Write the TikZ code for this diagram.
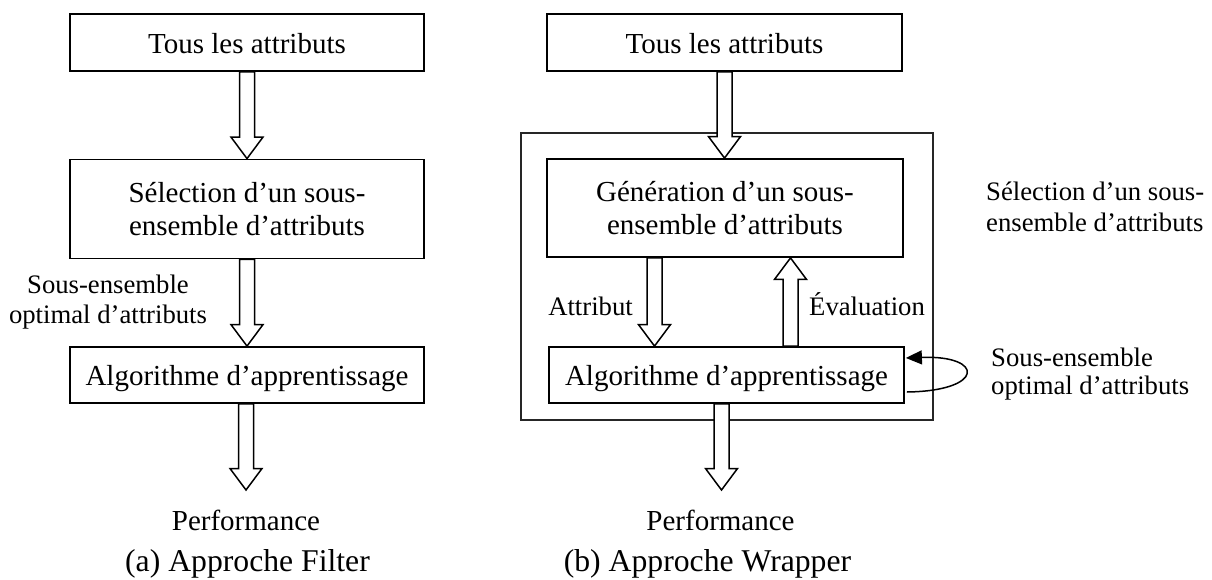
\documentclass[tikz,border=0pt]{standalone}
\usepackage{fontspec}
\setmainfont{Liberation Serif}
\usetikzlibrary{calc,arrows.meta}

% hollow block arrow pointing down, from #1 to the tip #2
\newcommand\blockdown[2]{%
  \draw[blockarrow] let \p1=(#1), \p2=(#2) in
    (\x1-7.5pt,\y1) -- (\x1+7.5pt,\y1) -- (\x1+7.5pt,\y2+21.5pt)
    -- (\x1+16pt,\y2+21.5pt) -- (\x1,\y2) -- (\x1-16pt,\y2+21.5pt)
    -- (\x1-7.5pt,\y2+21.5pt) -- cycle;}
% hollow block arrow pointing up, from #1 to the tip #2
\newcommand\blockup[2]{%
  \draw[blockarrow] let \p1=(#1), \p2=(#2) in
    (\x1-7.5pt,\y1) -- (\x1-7.5pt,\y2-21.5pt) -- (\x1-16pt,\y2-21.5pt)
    -- (\x1,\y2) -- (\x1+16pt,\y2-21.5pt) -- (\x1+7.5pt,\y2-21.5pt)
    -- (\x1+7.5pt,\y1) -- cycle;}

\tikzset{
  boxfont/.style={font=\fontsize{29}{33}\selectfont},
  box/.style={draw, line width=1.8pt, minimum width=354pt, inner sep=0pt,
    align=center, boxfont},
  oneline/.style={text height=26pt, text depth=4.6pt},
  blockarrow/.style={draw, fill=white, line width=1.5pt, line join=miter},
  lbl/.style={inner sep=0pt, font=\fontsize{26.7}{30.7}\selectfont},
  caption/.style={inner sep=0pt, anchor=base, font=\fontsize{31.7}{36}\selectfont},
  frame/.style={draw=black!85, line width=1.5pt, minimum width=412pt,
    minimum height=287pt, inner sep=0pt},
}

\begin{document}
\begin{tikzpicture}[x=1pt,y=-1pt]
\useasboundingbox (0,0) rectangle (1212,580);

% ---------- (a) filter approach ----------
\node[box, oneline, minimum height=57pt] (tousA) at (247,42.5) {Tous les attributs};
\node[box, minimum height=99pt] (selA) at (247,209) {Sélection d’un sous-\\ensemble d’attributs};
\node[box, oneline, minimum height=56pt] (algoA) at (247,375) {Algorithme d’apprentissage};
\node[lbl, align=center] (optA) at (108,302) {Sous-ensemble\\optimal d’attributs};
\node[boxfont, inner sep=0pt, anchor=base] (perfA) at (246,530) {Performance};
\node[caption] (capA) at (247.5,571) {(a) Approche Filter};
\coordinate (tipA) at (246,490);

\blockdown{tousA.south}{selA.north}
\blockdown{selA.south}{algoA.north}
\blockdown{algoA.south -| tipA}{tipA}

% ---------- (b) wrapper approach ----------
\node[frame] (wrap) at (727,276.5) {};
\node[box, oneline, minimum width=355pt, minimum height=57pt] (tousB) at (724.5,42.5) {Tous les attributs};
\node[box, minimum width=356pt, minimum height=98pt] (genB) at (725,208) {Génération d’un sous-\\ensemble d’attributs};
\node[box, oneline, minimum width=355pt, minimum height=56pt] (algoB) at (726.5,375) {Algorithme d’apprentissage};
\node[lbl, anchor=base east] (attr) at (633,315) {Attribut};
\node[lbl, anchor=base west] (eval) at (809,315) {Évaluation};
\node[lbl, align=left, anchor=west] (selB) at (986,207) {Sélection d’un sous-\\ensemble d’attributs};
\node[lbl, align=left, anchor=west, font=\fontsize{26.7}{28.5}\selectfont] (optB) at (991,374) {Sous-ensemble\\optimal d’attributs};
\node[boxfont, inner sep=0pt, anchor=base] (perfB) at (720.5,530) {Performance};
\node[caption] (capB) at (707.5,571) {(b) Approche Wrapper};
\coordinate (tipB) at (721.5,490);
\coordinate (xattr) at (654.5,0);
\coordinate (xeval) at (790.5,0);

\blockdown{tousB.south}{genB.north}
\blockdown{genB.south -| xattr}{algoB.north -| xattr}
\blockup{algoB.north -| xeval}{genB.south -| xeval}
\blockdown{algoB.south -| tipB}{tipB}

% feedback loop on the learning algorithm
\draw[line width=1.5pt, -{Triangle[length=16pt,width=14pt]}]
  ($(algoB.east)+(2,17)$) .. controls ($(algoB.east)+(80,16)$) and ($(algoB.east)+(80,-20)$)
  .. ($(algoB.east)+(1,-17)$);
\end{tikzpicture}
\end{document}
